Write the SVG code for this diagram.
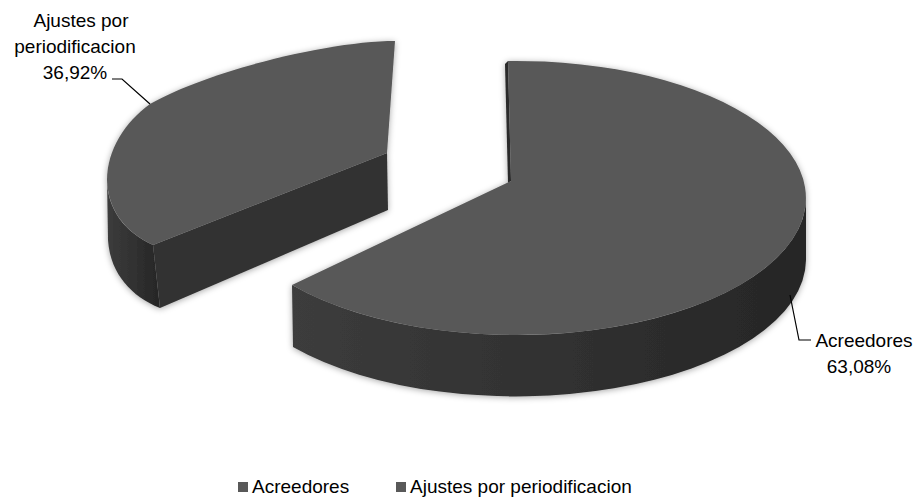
<svg xmlns="http://www.w3.org/2000/svg" width="914" height="498" viewBox="0 0 914 498">
  <defs>
    <style>
      .top { fill: #585858; }
      .wall { fill: url(#wallGrad); }
      .cut { fill: #333333; }
      .lbl { font-family: "Liberation Sans", Arial, sans-serif; font-size: 19px; fill: #000000; }
      .leader { fill: none; stroke: #000000; stroke-width: 1.2; }
      .key { fill: #595959; }
    </style>
    <linearGradient id="wallGrad" x1="0" y1="0" x2="1" y2="0">
      <stop offset="0" stop-color="#3c3c3c"/>
      <stop offset="0.5" stop-color="#313131"/>
      <stop offset="1" stop-color="#262626"/>
    </linearGradient>
    <filter id="soft" x="-10%" y="-10%" width="120%" height="130%">
      <feDropShadow dx="0" dy="1" stdDeviation="3" flood-color="#000000" flood-opacity="0.35"/>
    </filter>
  </defs>
  <rect width="914" height="498" fill="#ffffff"/>

  <g id="slice-ajustes" filter="url(#soft)">
    <path class="wall" d="M107,178 C107,210 125,232 153,245 L160,308 C130,296 110,272 108,240 Z"/>
    <path class="cut" d="M153,245 L387,153 L388,210 L160,308 Z"/>
    <path class="top" d="M387,153 L395,41 C330,41 210,70 150,104 C125,122 107,150 107,180 C108,210 125,232 153,245 Z"/>
  </g>

  <g id="slice-acreedores" filter="url(#soft)">
    <path class="wall" d="M806,198 A290 137 0 0 1 292,285 L293,347 A290 137 0 0 0 806,260 Z"/>
    <path fill="#2a2a2a" d="M505,64 L508,61 L511,181 L508,183 Z"/>
    <path class="top" d="M511,181 L508,61 A290 137 0 1 1 292,285 Z"/>
  </g>

  <g id="connectors">
    <polyline class="leader" points="150,104 122,79 112,79"/>
    <polyline class="leader" points="790,295 799,340 811,340"/>
  </g>

  <g id="label-ajustes">
    <text class="lbl" x="81" y="27" text-anchor="middle">Ajustes por</text>
    <text class="lbl" x="75" y="53" text-anchor="middle">periodificacion</text>
    <text class="lbl" x="75" y="79" text-anchor="middle">36,92%</text>
  </g>

  <g id="label-acreedores">
    <text class="lbl" x="864" y="347" text-anchor="middle">Acreedores</text>
    <text class="lbl" x="859" y="373" text-anchor="middle">63,08%</text>
  </g>

  <g id="legend">
    <rect class="key" x="238" y="482" width="10" height="10"/>
    <text class="lbl" x="252" y="493">Acreedores</text>
    <rect class="key" x="396" y="482" width="10" height="10"/>
    <text class="lbl" x="410" y="493">Ajustes por periodificacion</text>
  </g>
</svg>
